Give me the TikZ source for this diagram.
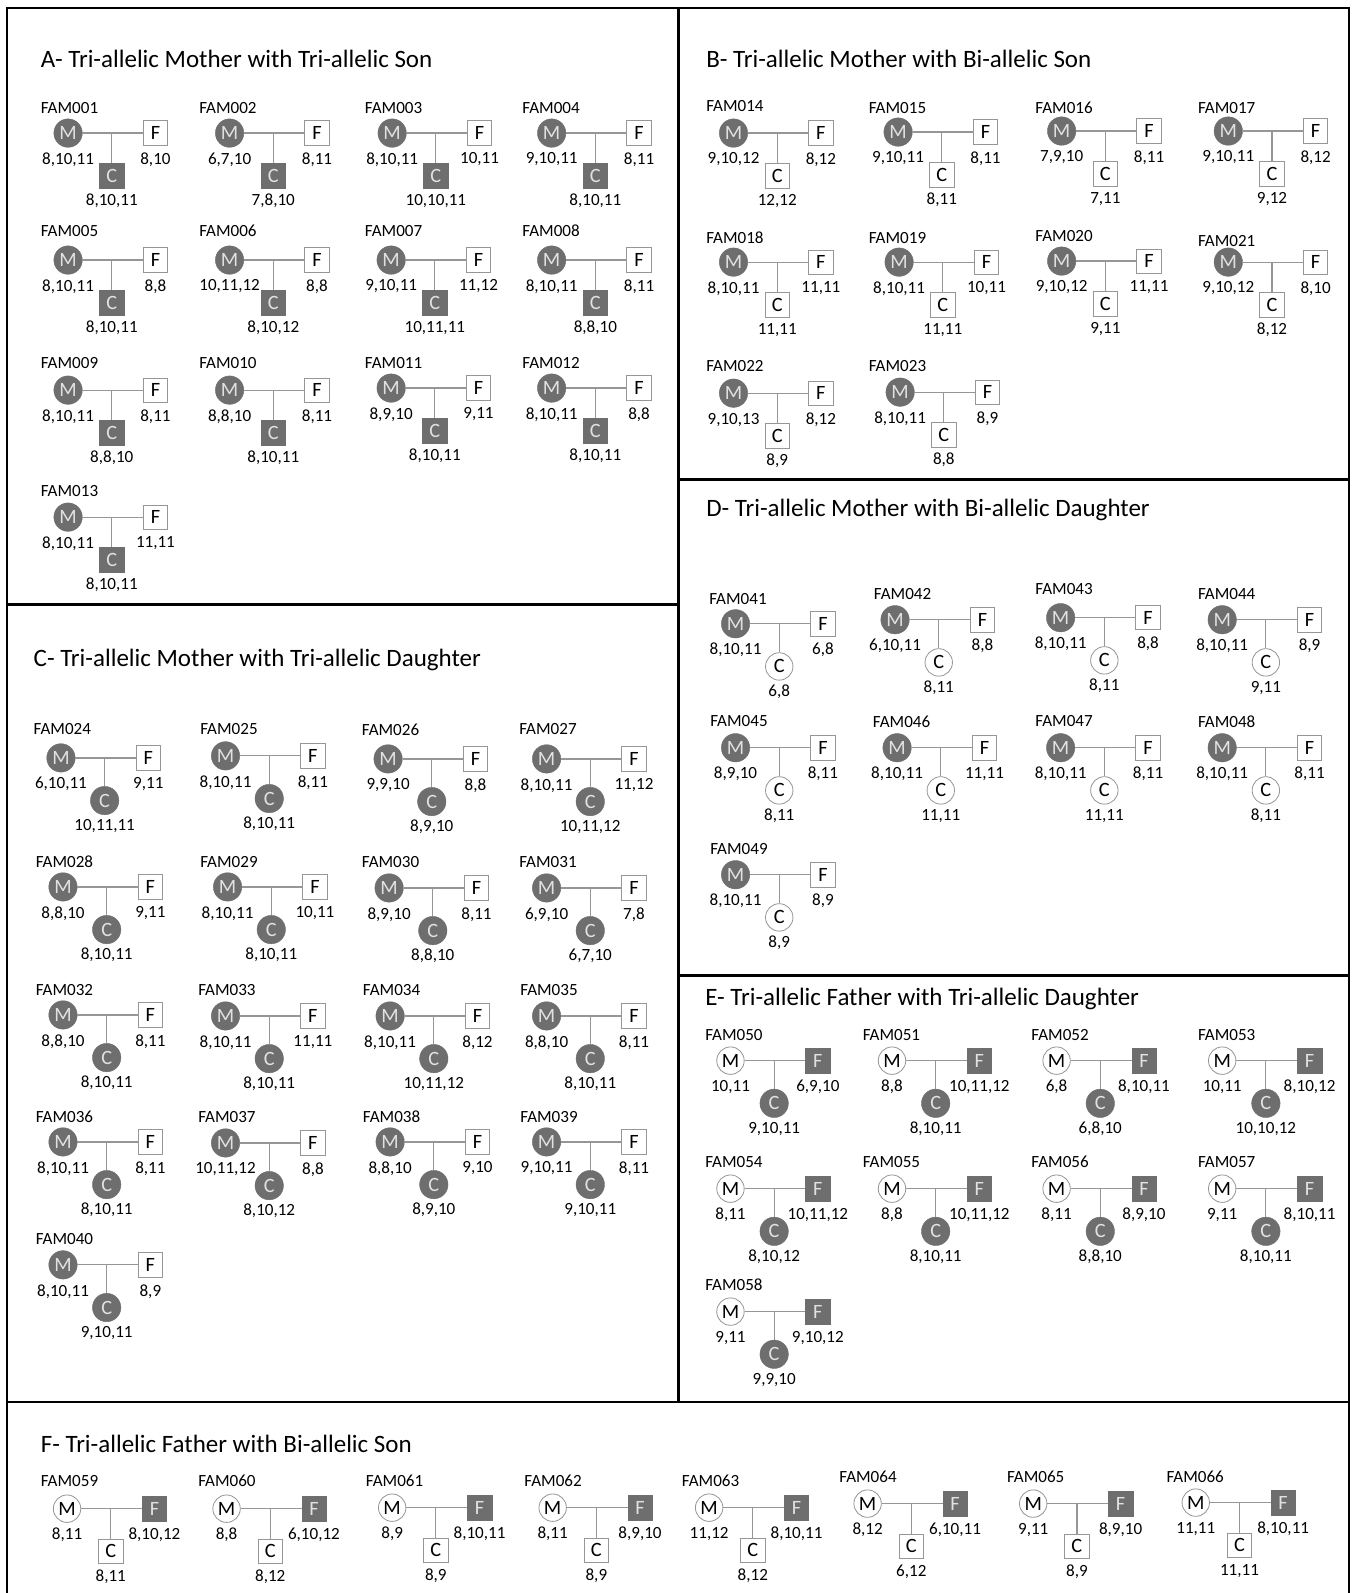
\documentclass[tikz,border=0pt]{standalone}
\usepackage{fontspec}
\setmainfont{Carlito}
\definecolor{fillg}{RGB}{110,110,110}
\definecolor{lineg}{RGB}{150,150,150}
\definecolor{letg}{RGB}{225,225,225}
\tikzset{
 base/.style={inner sep=0pt, font=\fontsize{20}{20}\selectfont},
 fcirc/.style={base, circle, minimum size=28pt, fill=fillg, draw=fillg, text=letg},
 ocirc/.style={base, circle, minimum size=27pt, draw=lineg, line width=0.8pt, fill=white, text=black},
 fsq/.style={base, rectangle, minimum size=24pt, fill=fillg, draw=fillg, text=letg},
 osq/.style={base, rectangle, minimum size=24pt, draw=lineg, line width=0.8pt, fill=white, text=black},
 lab/.style={font=\fontsize{16.8}{16.8}\selectfont, inner sep=0pt},
 famlab/.style={lab, anchor=west},
 link/.style={draw=lineg, line width=1.2pt},
 ttl/.style={font=\fontsize{24.6}{24.6}\selectfont, anchor=west, inner sep=0pt},
 border/.style={line width=2.5pt, black},
 sAm/.style={fcirc}, sAf/.style={osq}, sAc/.style={fsq},
 sBm/.style={fcirc}, sBf/.style={osq}, sBc/.style={osq},
 sCm/.style={fcirc}, sCf/.style={osq}, sCc/.style={fcirc},
 sDm/.style={fcirc}, sDf/.style={osq}, sDc/.style={ocirc},
 sEm/.style={ocirc}, sEf/.style={fsq}, sEc/.style={fcirc},
 sFm/.style={ocirc}, sFf/.style={fsq}, sFc/.style={osq},
}
\newcommand\pedigree[9]{%
 \node[famlab] (n#1) at (#2,#3) {FAM#1};
 \begin{scope}[shift={(#4,#5)}]
 \node[s#6m] (m#1) at (0,0) {M};
 \node[s#6f] (f#1) at (86,0) {F};
 \node[s#6c] (c#1) at (43,42) {C};
 \coordinate (j#1) at (43,0);
 \node[lab] (ml#1) at (0,26) {#7};
 \node[lab] (fl#1) at (86,26) {#8};
 \node[lab] (cl#1) at (43,67) {#9};
 \end{scope}
 \draw[link] (m#1) -- (f#1);
 \draw[link] (j#1) -- (c#1);
}
\begin{document}
\begin{tikzpicture}[x=1pt,y=-1pt]
\clip (0,0) rectangle (1333,1568);
\fill[white] (0,0) rectangle (1333,1568);
% borders
\draw[border] (7,8) rectangle (1328,1580);
\draw[border] (668,8) -- (668,1380);
\draw[border] (7,595) -- (668,595);
\draw[border] (668,472) -- (1328,472);
\draw[border] (668,960) -- (1328,960);
\draw[border] (7,1380) -- (1328,1380);
% titles
\node[ttl] (tA) at (40,58) {A- Tri-allelic Mother with Tri-allelic Son};
\node[ttl] (tB) at (695,58) {B- Tri-allelic Mother with Bi-allelic Son};
\node[ttl] (tC) at (33,650) {C- Tri-allelic Mother with Tri-allelic Daughter};
\node[ttl] (tD) at (695,502) {D- Tri-allelic Mother with Bi-allelic Daughter};
\node[ttl] (tE) at (694,983) {E- Tri-allelic Father with Tri-allelic Daughter};
\node[ttl] (tF) at (40,1421) {F- Tri-allelic Father with Bi-allelic Son};
% A
\pedigree{001}{40}{106}{67}{131}{A}{8,10,11}{8,10}{8,10,11}
\pedigree{002}{196}{106}{226}{131}{A}{6,7,10}{8,11}{7,8,10}
\pedigree{003}{359}{106}{386}{131}{A}{8,10,11}{10,11}{10,10,11}
\pedigree{004}{514}{106}{543}{131}{A}{9,10,11}{8,11}{8,10,11}
\pedigree{005}{40}{227}{67}{256}{A}{8,10,11}{8,8}{8,10,11}
\pedigree{006}{196}{227}{226}{256}{A}{10,11,12}{8,8}{8,10,12}
\pedigree{007}{359}{227}{385}{256}{A}{9,10,11}{11,12}{10,11,11}
\pedigree{008}{514}{227}{543}{256}{A}{8,10,11}{8,11}{8,8,10}
\pedigree{009}{40}{357}{67}{384}{A}{8,10,11}{8,11}{8,8,10}
\pedigree{010}{196}{357}{226}{384}{A}{8,8,10}{8,11}{8,10,11}
\pedigree{011}{359}{357}{385}{382}{A}{8,9,10}{9,11}{8,10,11}
\pedigree{012}{514}{357}{543}{382}{A}{8,10,11}{8,8}{8,10,11}
\pedigree{013}{40}{483}{67}{509}{A}{8,10,11}{11,11}{8,10,11}
% B
\pedigree{014}{695}{104}{722}{131}{B}{9,10,12}{8,12}{12,12}
\pedigree{015}{855}{106}{884}{130}{B}{9,10,11}{8,11}{8,11}
\pedigree{016}{1019}{106}{1045}{129}{B}{7,9,10}{8,11}{7,11}
\pedigree{017}{1179}{106}{1209}{129}{B}{9,10,11}{8,12}{9,12}
\pedigree{018}{695}{234}{722}{258}{B}{8,10,11}{11,11}{11,11}
\pedigree{019}{855}{234}{885}{258}{B}{8,10,11}{10,11}{11,11}
\pedigree{020}{1019}{232}{1045}{257}{B}{9,10,12}{11,11}{9,11}
\pedigree{021}{1179}{237}{1209}{258}{B}{9,10,12}{8,10}{8,12}
\pedigree{022}{695}{360}{722}{387}{B}{9,10,13}{8,12}{8,9}
\pedigree{023}{855}{360}{886}{386}{B}{8,10,11}{8,9}{8,8}
% C
\pedigree{024}{33}{718}{60}{746}{C}{6,10,11}{9,11}{10,11,11}
\pedigree{025}{197}{718}{222}{744}{C}{8,10,11}{8,11}{8,10,11}
\pedigree{026}{356}{718}{382}{747}{C}{9,9,10}{8,8}{8,9,10}
\pedigree{027}{511}{718}{538}{747}{C}{8,10,11}{11,12}{10,11,12}
\pedigree{028}{35}{848}{62}{873}{C}{8,8,10}{9,11}{8,10,11}
\pedigree{029}{197}{848}{224}{873}{C}{8,10,11}{10,11}{8,10,11}
\pedigree{030}{356}{848}{383}{874}{C}{8,9,10}{8,11}{8,8,10}
\pedigree{031}{511}{848}{538}{874}{C}{6,9,10}{7,8}{6,7,10}
\pedigree{032}{35}{974}{62}{999}{C}{8,8,10}{8,11}{8,10,11}
\pedigree{033}{195}{974}{222}{1000}{C}{8,10,11}{11,11}{8,10,11}
\pedigree{034}{357}{974}{384}{1000}{C}{8,10,11}{8,12}{10,11,12}
\pedigree{035}{512}{974}{538}{1000}{C}{8,8,10}{8,11}{8,10,11}
\pedigree{036}{35}{1099}{62}{1124}{C}{8,10,11}{8,11}{8,10,11}
\pedigree{037}{195}{1099}{222}{1125}{C}{10,11,12}{8,8}{8,10,12}
\pedigree{038}{357}{1099}{384}{1124}{C}{8,8,10}{9,10}{8,9,10}
\pedigree{039}{512}{1099}{538}{1124}{C}{9,10,11}{8,11}{9,10,11}
\pedigree{040}{35}{1220}{62}{1245}{C}{8,10,11}{8,9}{9,10,11}
% D
\pedigree{041}{698}{590}{724}{614}{D}{8,10,11}{6,8}{6,8}
\pedigree{042}{860}{585}{881}{610}{D}{6,10,11}{8,8}{8,11}
\pedigree{043}{1019}{580}{1044}{608}{D}{8,10,11}{8,8}{8,11}
\pedigree{044}{1179}{585}{1203}{610}{D}{8,10,11}{8,9}{9,11}
\pedigree{045}{699}{710}{724}{736}{D}{8,9,10}{8,11}{8,11}
\pedigree{046}{859}{710}{883}{736}{D}{8,10,11}{11,11}{11,11}
\pedigree{047}{1019}{710}{1044}{736}{D}{8,10,11}{8,11}{11,11}
\pedigree{048}{1179}{710}{1203}{736}{D}{8,10,11}{8,11}{8,11}
\pedigree{049}{699}{836}{724}{861}{D}{8,10,11}{8,9}{8,9}
% E
\pedigree{050}{694}{1019}{719}{1044}{E}{10,11}{6,9,10}{9,10,11}
\pedigree{051}{849}{1019}{878}{1044}{E}{8,8}{10,11,12}{8,10,11}
\pedigree{052}{1015}{1019}{1040}{1044}{E}{6,8}{8,10,11}{6,8,10}
\pedigree{053}{1179}{1019}{1203}{1044}{E}{10,11}{8,10,12}{10,10,12}
\pedigree{054}{694}{1144}{719}{1170}{E}{8,11}{10,11,12}{8,10,12}
\pedigree{055}{849}{1144}{878}{1170}{E}{8,8}{10,11,12}{8,10,11}
\pedigree{056}{1015}{1144}{1040}{1170}{E}{8,11}{8,9,10}{8,8,10}
\pedigree{057}{1179}{1144}{1203}{1170}{E}{9,11}{8,10,11}{8,10,11}
\pedigree{058}{694}{1265}{719}{1291}{E}{9,11}{9,10,12}{9,9,10}
% F
\pedigree{059}{40}{1458}{66}{1485}{F}{8,11}{8,10,12}{8,11}
\pedigree{060}{195}{1458}{223}{1485}{F}{8,8}{6,10,12}{8,12}
\pedigree{061}{360}{1458}{386}{1484}{F}{8,9}{8,10,11}{8,9}
\pedigree{062}{516}{1458}{544}{1484}{F}{8,11}{8,9,10}{8,9}
\pedigree{063}{671}{1458}{698}{1484}{F}{11,12}{8,10,11}{8,12}
\pedigree{064}{826}{1454}{854}{1480}{F}{8,12}{6,10,11}{6,12}
\pedigree{065}{991}{1454}{1017}{1480}{F}{9,11}{8,9,10}{8,9}
\pedigree{066}{1148}{1454}{1177}{1479}{F}{11,11}{8,10,11}{11,11}
\end{tikzpicture}
\end{document}
